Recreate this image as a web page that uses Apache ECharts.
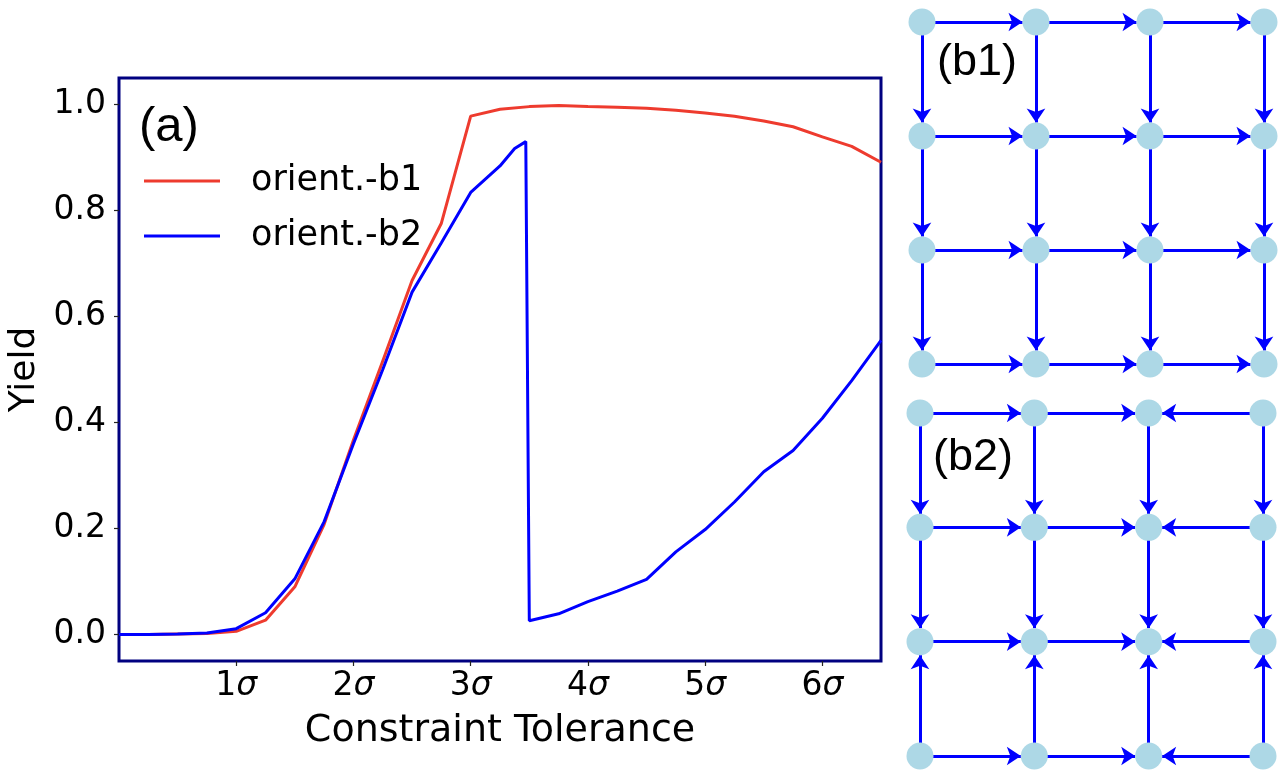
<!DOCTYPE html>
<html>
<head>
<meta charset="utf-8">
<script src="https://cdn.jsdelivr.net/npm/echarts@6/dist/echarts.min.js"></script>
<style>
html,body{margin:0;padding:0;background:#fff;}
#chart{width:1286px;height:782px;}
</style>
</head>
<body>
<div id="chart"></div>
<script>
// ---- data (a) ----
var xB1 = [0, 0.25, 0.5, 0.75, 1.0, 1.25, 1.5, 1.75, 2.0, 2.25, 2.5, 2.75, 3.0, 3.25, 3.5, 3.75, 4.0, 4.25, 4.5, 4.75, 5.0, 5.25, 5.5, 5.75, 6.0, 6.25, 6.5];
var yB1 = [0, 0, 0.001, 0.002, 0.006, 0.027, 0.09, 0.208, 0.367, 0.516, 0.668, 0.776, 0.978, 0.991, 0.996, 0.998, 0.996, 0.995, 0.993, 0.989, 0.984, 0.978, 0.969, 0.958, 0.939, 0.921, 0.891];
var xB2 = [0, 0.25, 0.5, 0.75, 1.0, 1.25, 1.5, 1.75, 2.0, 2.25, 2.5, 2.75, 3.0, 3.25, 3.375, 3.47, 3.5, 3.75, 4.0, 4.25, 4.5, 4.75, 5.0, 5.25, 5.5, 5.75, 6.0, 6.25, 6.5];
var yB2 = [0, 0, 0.001, 0.003, 0.011, 0.041, 0.105, 0.213, 0.36, 0.5, 0.646, 0.739, 0.834, 0.884, 0.917, 0.93, 0.026, 0.039, 0.062, 0.082, 0.104, 0.156, 0.198, 0.25, 0.307, 0.347, 0.408, 0.479, 0.555];
var seriesNames = ['orient.-b1', 'orient.-b2'];
var xTickValues = [1, 2, 3, 4, 5, 6];
var yTickValues = [0, 0.2, 0.4, 0.6, 0.8, 1.0];

// ---- data (b1), (b2): 4x4 lattice, node index = row*4 + col ----
var latticeCols = [0, 1, 2, 3];
var latticeRows = [0, 1, 2, 3];
var b1Edges = [[0,1],[1,2],[2,3],[4,5],[5,6],[6,7],[8,9],[9,10],[10,11],[12,13],[13,14],[14,15],
               [0,4],[4,8],[8,12],[1,5],[5,9],[9,13],[2,6],[6,10],[10,14],[3,7],[7,11],[11,15]];
var b2Edges = [[0,1],[1,2],[3,2],[4,5],[5,6],[7,6],[8,9],[9,10],[11,10],[12,13],[13,14],[15,14],
               [0,4],[4,8],[12,8],[1,5],[5,9],[13,9],[2,6],[6,10],[14,10],[3,7],[7,11],[15,11]];

function zip(xs, ys) { return xs.map(function (x, i) { return [x, ys[i]]; }); }
var nodes = [];
latticeRows.forEach(function (r) { latticeCols.forEach(function (c) { nodes.push({ value: [c, r] }); }); });
function links(edges) { return edges.map(function (e) { return { source: e[0], target: e[1] }; }); }

var FONT = 'DejaVu Sans';
var PANEL_FONT = 'Liberation Sans';
var chart = echarts.init(document.getElementById('chart'), null, { renderer: 'canvas' });

function graphSeries(idx, edges) {
  return {
    type: 'graph', coordinateSystem: 'cartesian2d', xAxisIndex: idx, yAxisIndex: idx,
    data: nodes, links: links(edges), symbol: 'circle', symbolSize: 27,
    itemStyle: { color: '#add8e6' },
    lineStyle: { color: '#0000ff', width: 3, opacity: 1, curveness: 0 },
    edgeSymbol: ['none', 'arrow'], edgeSymbolSize: [0, 14],
    label: { show: false }, silent: true, animation: false
  };
}

var option = {
  animation: false,
  backgroundColor: '#ffffff',
  textStyle: { fontFamily: FONT },
  grid: [
    { left: 119, right: 405, top: 78, bottom: 121, show: true, borderColor: '#000080', borderWidth: 3,
      backgroundColor: 'transparent', containLabel: false, outerBoundsMode: 'none' },
    { left: 922, top: 22, width: 342, height: 342, show: false, outerBoundsMode: 'none' },
    { left: 920, top: 413, width: 343, height: 343, show: false, outerBoundsMode: 'none' }
  ],
  legend: {
    data: seriesNames, orient: 'vertical', left: 144, top: 162, padding: 0,
    icon: 'rect', itemWidth: 76, itemHeight: 3, itemGap: 17,
    textStyle: { fontFamily: FONT, fontSize: 35, color: '#000', lineHeight: 38, padding: [0, 0, 0, 26] }
  },
  xAxis: [
    {
      type: 'value', gridIndex: 0, min: 0, max: 6.5,
      name: 'Constraint Tolerance', nameLocation: 'middle', nameGap: 51,
      nameTextStyle: { fontFamily: FONT, fontSize: 38, color: '#000' },
      axisLine: { show: false, onZero: false },
      axisTick: { show: true, customValues: xTickValues, length: 5, lineStyle: { color: '#222', width: 1.2 } },
      axisLabel: {
        customValues: xTickValues, margin: 9, color: '#000',
        formatter: function (v) { return '{n|' + v + '}{s|σ}'; },
        rich: { n: { fontFamily: FONT, fontSize: 33, color: '#000' }, s: { fontFamily: FONT, fontSize: 33, fontStyle: 'italic', color: '#000' } }
      },
      splitLine: { show: false }
    },
    { type: 'value', gridIndex: 1, min: 0, max: 3, show: false },
    { type: 'value', gridIndex: 2, min: 0, max: 3, show: false }
  ],
  yAxis: [
    {
      type: 'value', gridIndex: 0, min: -0.05, max: 1.05,
      name: 'Yield', nameLocation: 'middle', nameGap: 76,
      nameTextStyle: { fontFamily: FONT, fontSize: 36, color: '#000' },
      axisLine: { show: false, onZero: false },
      axisTick: { show: true, customValues: yTickValues, length: 5, lineStyle: { color: '#222', width: 1.2 } },
      axisLabel: {
        customValues: yTickValues, margin: 13, color: '#000', fontFamily: FONT, fontSize: 33,
        formatter: function (v) { return v.toFixed(1); }
      },
      splitLine: { show: false }
    },
    { type: 'value', gridIndex: 1, min: 0, max: 3, inverse: true, show: false },
    { type: 'value', gridIndex: 2, min: 0, max: 3, inverse: true, show: false }
  ],
  graphic: [
    { type: 'text', left: 139, top: 103, style: { text: '(a)', fontFamily: PANEL_FONT, fontSize: 49, fill: '#000' } },
    { type: 'text', left: 937, top: 40, style: { text: '(b1)', fontFamily: PANEL_FONT, fontSize: 45, fill: '#000' } },
    { type: 'text', left: 933, top: 435, style: { text: '(b2)', fontFamily: PANEL_FONT, fontSize: 45, fill: '#000' } }
  ],
  series: [
    { name: seriesNames[0], type: 'line', xAxisIndex: 0, yAxisIndex: 0, data: zip(xB1, yB1), showSymbol: false, symbol: 'none',
      lineStyle: { color: '#ee3b2e', width: 3 }, itemStyle: { color: '#ee3b2e' } },
    { name: seriesNames[1], type: 'line', xAxisIndex: 0, yAxisIndex: 0, data: zip(xB2, yB2), showSymbol: false, symbol: 'none',
      lineStyle: { color: '#0000ff', width: 3 }, itemStyle: { color: '#0000ff' } },
    graphSeries(1, b1Edges),
    graphSeries(2, b2Edges)
  ]
};
chart.setOption(option);
</script>
</body>
</html>
